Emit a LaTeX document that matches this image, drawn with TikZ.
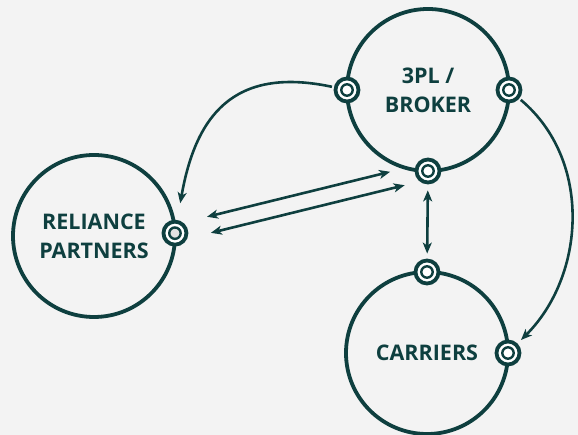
\documentclass[tikz,border=0pt]{standalone}
\usepackage{fontspec}
\setmainfont{Open Sans}
\usepackage{xcolor}
\usepackage{tikz}
\usetikzlibrary{arrows.meta,calc,positioning,shapes}

\definecolor{ink}{HTML}{0E3F3F}
\definecolor{paper}{HTML}{F3F3F3}

\begin{document}
\begin{tikzpicture}[x=1pt,y=1pt]

\tikzset{party/.style = {shape=circle,draw=ink,line width=3.8pt,minimum size=162pt,outer sep=0pt,
  align=center,text=ink,font=\fontsize{21.5}{29}\selectfont\bfseries}}
\tikzset{port/.style = {shape=circle,draw=ink,line width=3.8pt,fill=white,minimum size=23pt,inner sep=0pt,
  path picture={\draw[ink,line width=2.4pt,fill=#1] (path picture bounding box.center) circle (5.7pt);}},
  port/.default=white}
\tikzset{flow/.style = {draw=ink,line width=2.6pt,> = {Stealth[length=11pt,width=9pt,inset=3pt]}}}

\fill[paper] (0,0) rectangle (578,435);
\useasboundingbox (0,0) rectangle (578,435);

% parties
\node[party] (broker) at  (428,345) {3PL /\\BROKER};
\node[party] (relia) at  (94,199) {RELIANCE\\PARTNERS};
\node[party] (carrier) at  (427,82) {CARRIERS};

% ports
\node[port] (pbw) at  (broker.west) {};
\node[port] (pbe) at  (broker.east) {};
\node[port] (pbs) at  (broker.south) {};
\node[port=black!12] (prel) at  (relia.2) {};
\node[port] (pct) at  (carrier.north) {};
\node[port] (pce) at  (carrier.east) {};

%edges
\draw[flow,->,shorten <=2pt,shorten >=17pt] (pbw) to[out=168,in=80,looseness=1.3] (prel);
\draw[flow,->,shorten <=2pt,shorten >=5pt] (pbe) to[out=-40,in=45] (pce);
\draw[flow,<->,shorten <=33pt,shorten >=39pt] ([yshift=8.5]prel.center) -- ([yshift=8.5]pbs.center);
\draw[flow,<->,shorten <=37pt,shorten >=24pt] ([yshift=-8.5]prel.center) -- ([yshift=-8.5]pbs.center);
\draw[flow,<->,shorten <=6pt,shorten >=5pt] (pbs) -- (pct);
\end{tikzpicture}
\end{document}
